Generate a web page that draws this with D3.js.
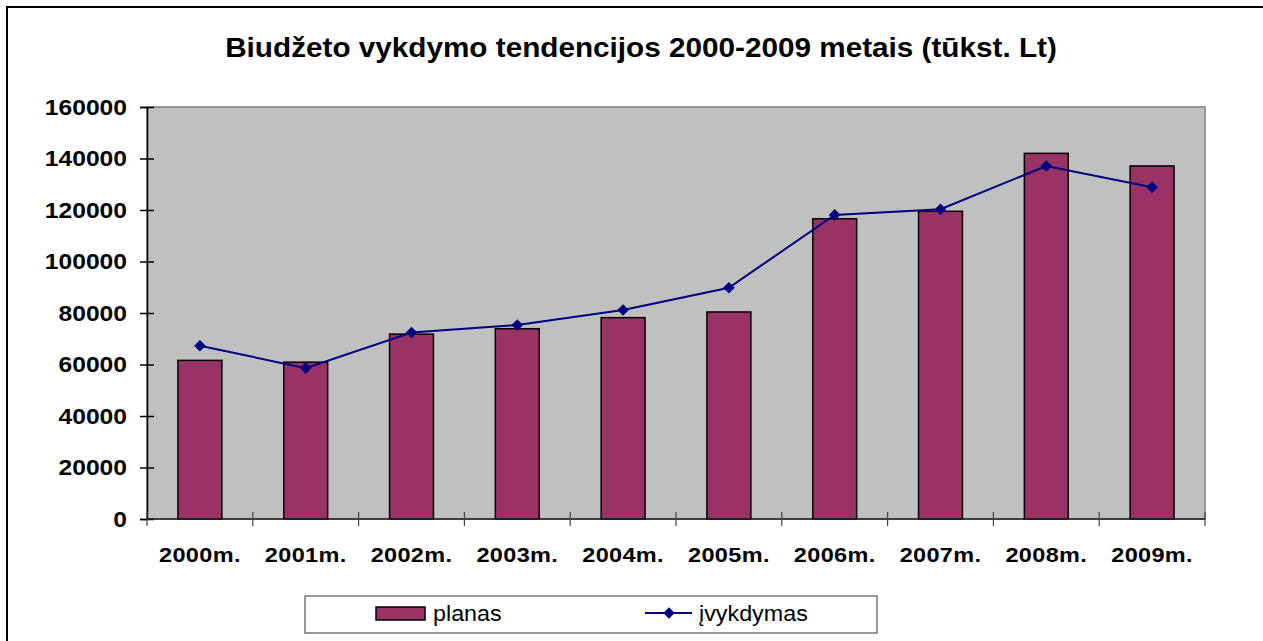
<!DOCTYPE html>
<html>
<head>
<meta charset="utf-8">
<script src="https://cdn.jsdelivr.net/npm/d3@7"></script>
<style>
  body { margin: 0; background: #fff; }
  svg text { font-family: Arial, "Liberation Sans", sans-serif; }
</style>
</head>
<body>
<div id="canvas"></div>
<script>
"use strict"

// chart data
let years = ["2000m.", "2001m.", "2002m.", "2003m.", "2004m.", "2005m.", "2006m.", "2007m.", "2008m.", "2009m."]
let planas = [61600, 60900, 71800, 73900, 78200, 80400, 116600, 119500, 142000, 137100]
let ivykdymas = [67300, 58600, 72400, 75300, 81200, 89800, 118100, 120300, 137100, 128800]
let yTicks = [0, 20000, 40000, 60000, 80000, 100000, 120000, 140000, 160000]

let stretch = 1.12 // the original text is a bit wider than Arial

let drawing = d3.select("#canvas")
    .append("svg")
    .attr("width", 1263)
    .attr("height", 641)

// outer chart frame (right and bottom edges fall outside the picture)
let frame = drawing.append("rect")
    .attr("x", 7)
    .attr("y", 7)
    .attr("width", 1270)
    .attr("height", 660)
    .attr("fill", "white")
    .attr("stroke", "black")
    .attr("stroke-width", 2)

let plotLeft = 147
let plotRight = 1205
let plotTop = 107
let plotBottom = 519

let x = d3.scaleBand()
    .domain(years)
    .range([plotLeft, plotRight])
    .padding(0)

let y = d3.scaleLinear()
    .domain([0, 160000])
    .range([plotBottom, plotTop])

// grey plot area
let plotArea = drawing.append("rect")
    .attr("x", plotLeft)
    .attr("y", plotTop)
    .attr("width", plotRight - plotLeft)
    .attr("height", plotBottom - plotTop)
    .attr("fill", "#c0c0c0")
    .attr("stroke", "#808080")
    .attr("stroke-width", 1.5)

let title = drawing.append("text")
    .attr("transform", `translate(641,57) scale(1.1,1)`)
    .attr("text-anchor", "middle")
    .attr("font-size", 27)
    .attr("font-weight", "bold")
    .text("Biudžeto vykdymo tendencijos 2000-2009 metais (tūkst. Lt)")

// bars (planas)
let barWidth = x.bandwidth() * 0.415
let bars = drawing.append("g")
    .selectAll("rect")
    .data(planas)
    .join("rect")
    .attr("x", (d, i) => x(years[i]) + x.bandwidth() / 2 - barWidth / 2)
    .attr("y", d => y(d))
    .attr("width", barWidth)
    .attr("height", d => y(0) - y(d))
    .attr("fill", "#993366")
    .attr("stroke", "black")
    .attr("stroke-width", 1.5)

// y axis with cross ticks
let yAxis = drawing.append("g")
    .attr("transform", `translate(${plotLeft},0)`)
    .call(d3.axisLeft(y).tickValues(yTicks).tickFormat(d3.format("d")).tickSize(7))
yAxis.select(".domain").attr("stroke", "black").attr("stroke-width", 1.5)
yAxis.selectAll(".tick line").attr("x1", 7).attr("stroke-width", 1.5)
yAxis.selectAll(".tick text")
    .attr("x", -20 / stretch)
    .attr("transform", `scale(${stretch},1)`)
    .attr("font-size", 22)
    .attr("font-weight", "bold")
    .attr("fill", "black")

// x axis line and boundary ticks
let xAxisLine = drawing.append("line")
    .attr("x1", plotLeft)
    .attr("x2", plotRight)
    .attr("y1", plotBottom)
    .attr("y2", plotBottom)
    .attr("stroke", "#222")
    .attr("stroke-width", 1.5)

let xTicks = drawing.append("g")
    .selectAll("line")
    .data(years.concat(["end"]))
    .join("line")
    .attr("x1", (d, i) => i < years.length ? x(d) : plotRight)
    .attr("x2", (d, i) => i < years.length ? x(d) : plotRight)
    .attr("y1", plotBottom - 7)
    .attr("y2", plotBottom + 7)
    .attr("stroke", "#444")
    .attr("stroke-width", 1.2)

let xLabels = drawing.append("g")
    .selectAll("text")
    .data(years)
    .join("text")
    .attr("transform", d => `translate(${x(d) + x.bandwidth() / 2},562) scale(${stretch},1)`)
    .attr("text-anchor", "middle")
    .attr("font-size", 21)
    .attr("font-weight", "bold")
    .attr("letter-spacing", 0.3)
    .text(d => d)

// line (įvykdymas)
let line = d3.line()
    .x((d, i) => x(years[i]) + x.bandwidth() / 2)
    .y(d => y(d))

let ivykdymasLine = drawing.append("path")
    .datum(ivykdymas)
    .attr("d", line)
    .attr("fill", "none")
    .attr("stroke", "#000080")
    .attr("stroke-width", 2)

let diamond = d3.symbol().type(d3.symbolDiamond2).size(85)
let markers = drawing.append("g")
    .selectAll("path")
    .data(ivykdymas)
    .join("path")
    .attr("d", diamond)
    .attr("transform", (d, i) => `translate(${x(years[i]) + x.bandwidth() / 2},${y(d)})`)
    .attr("fill", "#000080")

// legend
let legend = drawing.append("g")
legend.append("rect")
    .attr("x", 305)
    .attr("y", 596)
    .attr("width", 572)
    .attr("height", 37)
    .attr("fill", "white")
    .attr("stroke", "#555")
    .attr("stroke-width", 1.2)

legend.append("rect")
    .attr("x", 376)
    .attr("y", 607)
    .attr("width", 49)
    .attr("height", 13)
    .attr("fill", "#993366")
    .attr("stroke", "black")
    .attr("stroke-width", 1.5)

legend.append("text")
    .attr("transform", `translate(433,621) scale(1.06,1)`)
    .attr("font-size", 22)
    .text("planas")

legend.append("line")
    .attr("x1", 645)
    .attr("x2", 692)
    .attr("y1", 613)
    .attr("y2", 613)
    .attr("stroke", "#000080")
    .attr("stroke-width", 2)

legend.append("path")
    .attr("d", diamond)
    .attr("transform", "translate(669,613)")
    .attr("fill", "#000080")

legend.append("text")
    .attr("transform", `translate(699,621) scale(1.06,1)`)
    .attr("font-size", 22)
    .text("įvykdymas")
</script>
</body>
</html>
